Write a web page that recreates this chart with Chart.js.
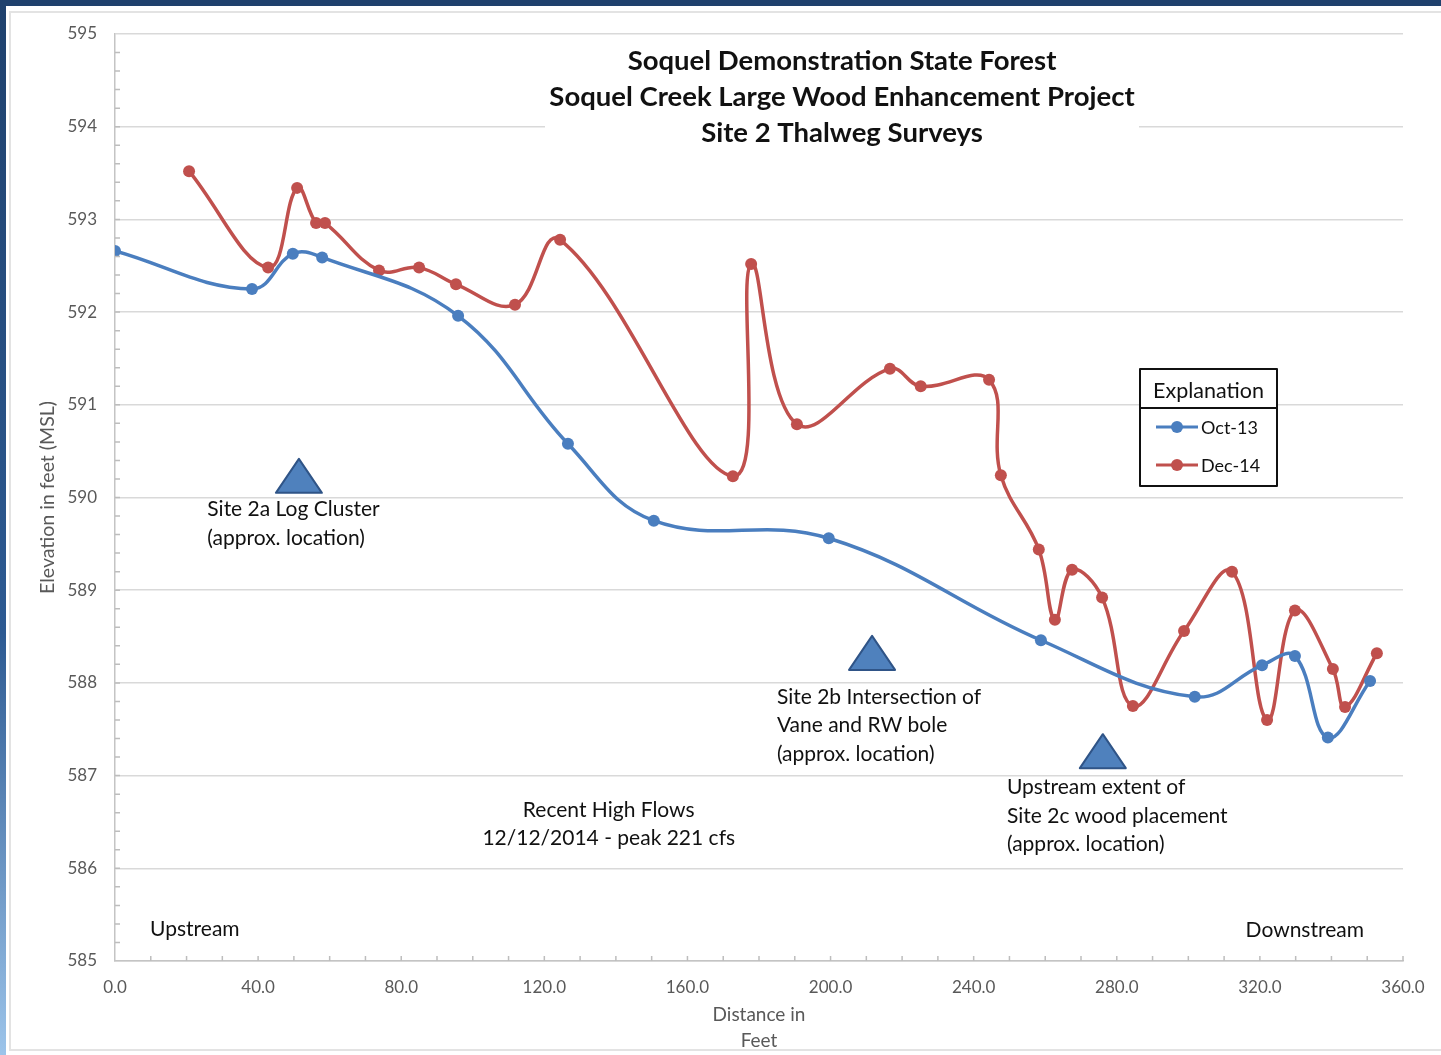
<!DOCTYPE html>
<html>
<head>
<meta charset="utf-8">
<script src="https://cdn.jsdelivr.net/npm/chart.js@4.4.1/dist/chart.umd.min.js"></script>
<style>
  html, body { margin: 0; padding: 0; background: #fff; }
  body { width: 1441px; height: 1055px; position: relative; overflow: hidden; }
  #topBand { position: absolute; left: 0; top: 0; width: 1441px; height: 6px; background: #1f416d; }
  #leftBand { position: absolute; left: 0; top: 0; width: 6px; height: 1055px;
              background: linear-gradient(#1f416d, #2d5a92 60%, #9cc4ea); }
  #frame { position: absolute; left: 9px; top: 11px; width: 1440px; height: 1040px;
           border: 2px solid #e3e3e3; box-sizing: border-box; }
  #chartWrap { position: absolute; left: 0; top: 0; width: 1441px; height: 1055px; }
</style>
</head>
<body>
<div id="topBand"></div>
<div id="leftBand"></div>
<div id="frame"></div>
<div id="chartWrap"><canvas id="thalwegChart" width="1441" height="1055"></canvas></div>
<script>
// Site 2 thalweg survey points (distance in feet, elevation in feet MSL)
const octDist = [0, 38.3, 49.7, 57.9, 95.9, 126.6, 150.6, 199.5, 258.8, 301.8, 320.6, 329.8, 339.0, 350.8];
const octElev = [592.66, 592.25, 592.63, 592.59, 591.96, 590.58, 589.75, 589.56, 588.46, 587.85, 588.19, 588.29, 587.41, 588.02];

const decDist = [20.7, 42.8, 50.9, 56.2, 58.7, 73.8, 85.0, 95.3, 111.8, 124.4, 172.7, 177.8, 190.6, 216.6, 225.2,
                 244.3, 247.6, 258.2, 262.7, 267.5, 275.9, 284.5, 298.8, 312.2, 322.0, 329.8, 340.4, 343.8, 352.7];
const decElev = [593.52, 592.48, 593.34, 592.96, 592.96, 592.45, 592.48, 592.30, 592.08, 592.78, 590.23, 592.52, 590.79, 591.39, 591.20,
                 591.27, 590.24, 589.44, 588.68, 589.22, 588.92, 587.75, 588.56, 589.20, 587.60, 588.78, 588.15, 587.74, 588.32];

const seriesNames = ['Oct-13', 'Dec-14'];
const titleLines = ['Soquel Demonstration State Forest', 'Soquel Creek Large Wood Enhancement Project', 'Site 2 Thalweg Surveys'];

// location markers (x in feet, y in feet MSL at triangle base) and their notes
const markers = [
    { x: 51.4, y: 590.05, lines: ['Site 2a Log Cluster', '(approx. location)'], tx: 25.8, ty: 589.87 },
    { x: 211.6, y: 588.14, lines: ['Site 2b Intersection of', 'Vane and RW bole', '(approx. location)'], tx: 185.0, ty: 587.85 },
    { x: 276.1, y: 587.08, lines: ['Upstream extent of', 'Site 2c wood placement', '(approx. location)'], tx: 249.3, ty: 586.87 }
];
const notes = [
    { text: ['Recent High Flows', '12/12/2014 - peak 221 cfs'], x: 138.0, y: 586.63, align: 'center' },
    { text: ['Upstream'], x: 9.8, y: 585.34, align: 'left' },
    { text: ['Downstream'], x: 316.0, y: 585.33, align: 'left' }
];

const FONT = 'Lato, "Open Sans", sans-serif';
const BLUE = '#4a7ebf';
const RED = '#c0504d';

function toPoints(xs, ys) {
    return xs.map((x, i) => ({ x: x, y: ys[i] }));
}

// minor tick marks on both axes, pointing into the plot
const minorTicks = {
    id: 'minorTicks',
    afterDraw(chart) {
        const ctx = chart.ctx;
        const xs = chart.scales.x, ys = chart.scales.y;
        const area = chart.chartArea;
        ctx.save();
        ctx.strokeStyle = '#bdbdbd';
        ctx.lineWidth = 1.5;
        ctx.beginPath();
        for (let v = 10; v <= 360; v += 10) {
            const px = xs.getPixelForValue(v);
            ctx.moveTo(px, area.bottom);
            ctx.lineTo(px, area.bottom - 5);
        }
        for (let v = 585.2; v < 595; v += 0.2) {
            const py = ys.getPixelForValue(v);
            ctx.moveTo(area.left, py);
            ctx.lineTo(area.left + 5, py);
        }
        ctx.stroke();
        ctx.restore();
    }
};

const annotations = {
    id: 'annotations',
    afterDraw(chart) {
        const ctx = chart.ctx;
        const xs = chart.scales.x, ys = chart.scales.y;
        ctx.save();

        // title with white backing box
        const cx = (chart.chartArea.left + chart.chartArea.right) / 2 + 83;
        ctx.fillStyle = '#fff';
        ctx.fillRect(cx - 297, 42, 594, 110);
        ctx.fillStyle = '#111';
        ctx.font = 'bold 27.5px ' + FONT;
        ctx.textAlign = 'center';
        ctx.textBaseline = 'middle';
        titleLines.forEach((t, i) => ctx.fillText(t, cx, 61 + i * 36));

        // triangles + notes
        ctx.font = '21px ' + FONT;
        ctx.textAlign = 'left';
        markers.forEach(m => {
            const px = xs.getPixelForValue(m.x);
            const py = ys.getPixelForValue(m.y);
            ctx.beginPath();
            ctx.moveTo(px, py - 34);
            ctx.lineTo(px + 23, py);
            ctx.lineTo(px - 23, py);
            ctx.closePath();
            ctx.fillStyle = '#4f81bd';
            ctx.fill();
            ctx.strokeStyle = '#2f5487';
            ctx.lineWidth = 2;
            ctx.lineJoin = 'round';
            ctx.stroke();
            ctx.fillStyle = '#111';
            const tx = xs.getPixelForValue(m.tx);
            const ty = ys.getPixelForValue(m.ty);
            m.lines.forEach((l, i) => ctx.fillText(l, tx, ty + i * 28.5));
        });
        notes.forEach(n => {
            ctx.textAlign = n.align;
            const tx = xs.getPixelForValue(n.x);
            const ty = ys.getPixelForValue(n.y);
            n.text.forEach((l, i) => ctx.fillText(l, tx, ty + i * 28));
        });

        // explanation box
        const bx = 1140, by = 369, bw = 137, bh = 117;
        ctx.fillStyle = '#fff';
        ctx.fillRect(bx, by, bw, bh);
        ctx.strokeStyle = '#111';
        ctx.lineWidth = 2;
        ctx.strokeRect(bx, by, bw, bh);
        ctx.beginPath();
        ctx.moveTo(bx, by + 39);
        ctx.lineTo(bx + bw, by + 39);
        ctx.stroke();
        ctx.fillStyle = '#111';
        ctx.textAlign = 'center';
        ctx.font = '21.5px ' + FONT;
        ctx.fillText('Explanation', bx + bw / 2, by + 22);
        const cols = [BLUE, RED];
        ctx.textAlign = 'left';
        ctx.font = '18px ' + FONT;
        seriesNames.forEach((name, i) => {
            const ly = by + 58 + i * 38;
            ctx.strokeStyle = cols[i];
            ctx.lineWidth = 3;
            ctx.beginPath();
            ctx.moveTo(bx + 16, ly);
            ctx.lineTo(bx + 58, ly);
            ctx.stroke();
            ctx.fillStyle = cols[i];
            ctx.beginPath();
            ctx.arc(bx + 37, ly, 6, 0, Math.PI * 2);
            ctx.fill();
            ctx.fillStyle = '#111';
            ctx.fillText(name, bx + 61, ly + 1);
        });
        ctx.restore();
    }
};

function buildChart() {
    const ctx = document.getElementById('thalwegChart').getContext('2d');
    new Chart(ctx, {
        type: 'line',
        data: {
            datasets: [
                {
                    label: seriesNames[0],
                    data: toPoints(octDist, octElev),
                    borderColor: BLUE,
                    backgroundColor: BLUE,
                    borderWidth: 3.5,
                    pointRadius: 6,
                    pointBorderWidth: 0,
                    tension: 0.4
                },
                {
                    label: seriesNames[1],
                    data: toPoints(decDist, decElev),
                    borderColor: RED,
                    backgroundColor: RED,
                    borderWidth: 3.5,
                    pointRadius: 6,
                    pointBorderWidth: 0,
                    tension: 0.4
                }
            ]
        },
        options: {
            responsive: false,
            animation: false,
            layout: { padding: { top: 34, right: 38, bottom: 0, left: 0 } },
            plugins: {
                legend: { display: false },
                tooltip: { enabled: false }
            },
            scales: {
                x: {
                    type: 'linear',
                    min: 0,
                    max: 360,
                    afterFit: s => { s.height = 94; },
                    ticks: {
                        stepSize: 40,
                        padding: 16,
                        color: '#595959',
                        font: { family: FONT, size: 17 },
                        callback: v => v.toFixed(1),
                        maxRotation: 0
                    },
                    grid: { display: false, drawTicks: false },
                    border: { display: true, color: '#c4c4c4', width: 1.5 },
                    title: {
                        display: true,
                        text: ['Distance in', 'Feet'],
                        color: '#595959',
                        font: { family: FONT, size: 19, lineHeight: '26px' },
                        padding: { top: 0, bottom: 1 }
                    }
                },
                y: {
                    min: 585,
                    max: 595,
                    afterFit: s => { s.width = 115; },
                    ticks: {
                        stepSize: 1,
                        padding: 18,
                        color: '#595959',
                        font: { family: FONT, size: 17 },
                        callback: v => String(v)
                    },
                    grid: { color: '#d9d9d9', lineWidth: 1.5, drawTicks: false },
                    border: { display: true, color: '#c4c4c4', width: 1.5 },
                    title: {
                        display: true,
                        text: 'Elevation in feet (MSL)',
                        color: '#595959',
                        font: { family: FONT, size: 19.5 },
                        padding: { top: 36, bottom: 0 }
                    }
                }
            }
        },
        plugins: [minorTicks, annotations]
    });
}

document.addEventListener('DOMContentLoaded', buildChart);
</script>
</body>
</html>
